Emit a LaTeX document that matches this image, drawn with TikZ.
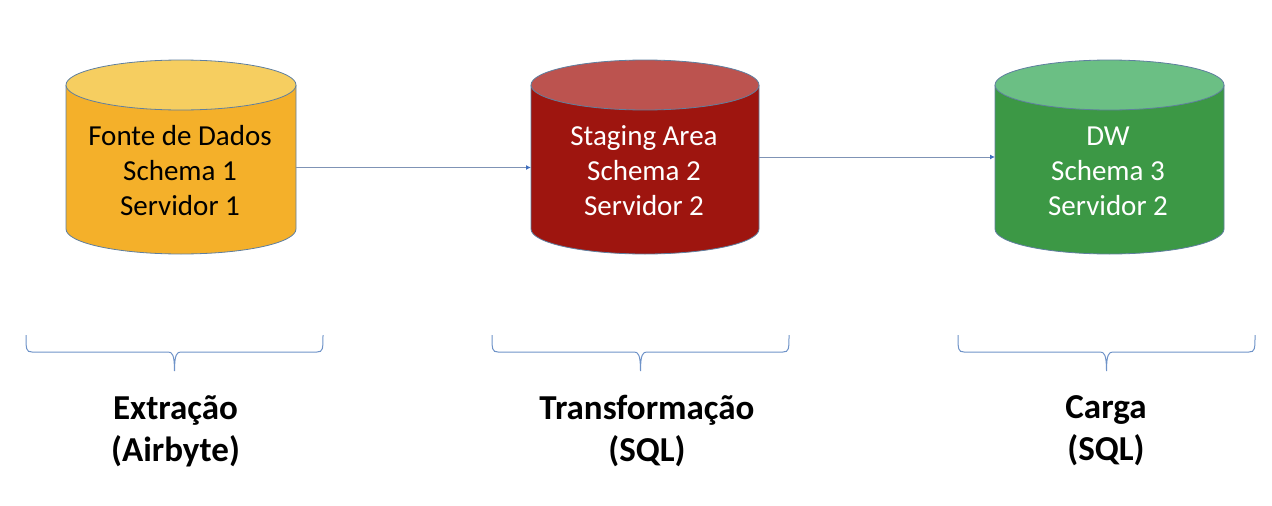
\documentclass[tikz,border=0pt]{standalone}
\usepackage{fontspec}
\setmainfont{Carlito}
\definecolor{yelB}{HTML}{F4B02A}
\definecolor{yelT}{HTML}{F6CE60}
\definecolor{redB}{HTML}{9E150F}
\definecolor{redT}{HTML}{BC534F}
\definecolor{grnB}{HTML}{3C9845}
\definecolor{grnT}{HTML}{6BBF84}
\definecolor{edgeC}{HTML}{5F7F9F}
\definecolor{lineC}{HTML}{7F93B5}
\definecolor{braceC}{HTML}{6F93C8}
\definecolor{tipC}{HTML}{3F6FC0}
\tikzset{
  bodytext/.style={font=\fontsize{29}{35}\selectfont,align=center,inner sep=0pt},
  steptext/.style={font=\fontsize{35}{42}\selectfont\bfseries,align=center,inner sep=0pt,text=black},
  flow/.style={draw=lineC,line width=1pt,-{Latex[length=5pt,width=5pt,color=tipC]}},
  bracel/.style={draw=braceC,line width=1pt,fill=none}
}
\usetikzlibrary{arrows.meta}
\newcommand{\drum}[4]{% left x, width, body colour, top colour
  \fill[#3] (#1,85) -- (#1,229) arc[start angle=180,end angle=360,x radius=#2/2,y radius=-25] -- (#1+#2,85) -- cycle;
  \draw[edgeC,line width=0.8pt] (#1,85) -- (#1,229) arc[start angle=180,end angle=360,x radius=#2/2,y radius=-25] -- (#1+#2,85);
  \draw[edgeC,line width=0.8pt,fill=#4] (#1+#2/2,85) ellipse[x radius=#2/2,y radius=25];
}
\newcommand{\curly}[1]{% left x; width 297
  \draw[bracel] (#1,335) .. controls (#1,349) and (#1,352) .. (#1+6,352) -- (#1+142,352)
     .. controls (#1+146,352) and (#1+148.5,354) .. (#1+148.5,371)
     .. controls (#1+148.5,354) and (#1+151,352) .. (#1+155,352) -- (#1+291,352)
     .. controls (#1+297,352) and (#1+297,349) .. (#1+297,335);
}
\begin{document}
\begin{tikzpicture}[x=1pt,y=-1pt]
\useasboundingbox (0,0) rectangle (1272,506);
\drum{66}{230}{yelB}{yelT}
\drum{531}{228}{redB}{redT}
\drum{995}{229}{grnB}{grnT}
\coordinate (aOut) at (296,167.5);
\coordinate (bIn) at (531,167.5);
\coordinate (bOut) at (759,157);
\coordinate (cIn) at (995,157);
\draw[flow] (aOut) -- (bIn);
\draw[flow] (bOut) -- (cIn);
\node[bodytext,text=black] (fonte) at (180,171) {Fonte de Dados\\Schema 1\\Servidor 1};
\node[bodytext,text=white] (staging) at (644,171) {Staging Area\\Schema 2\\Servidor 2};
\node[bodytext,text=white] (dw) at (1108,171) {DW\\Schema 3\\Servidor 2};
\curly{26}
\curly{492}
\curly{958}
\node[steptext] (ext) at (175.5,431) {Extração\\(Airbyte)};
\node[steptext] (tra) at (647,431) {Transformação\\(SQL)};
\node[steptext] (car) at (1106,431) {Carga\\(SQL)};
\end{tikzpicture}
\end{document}
